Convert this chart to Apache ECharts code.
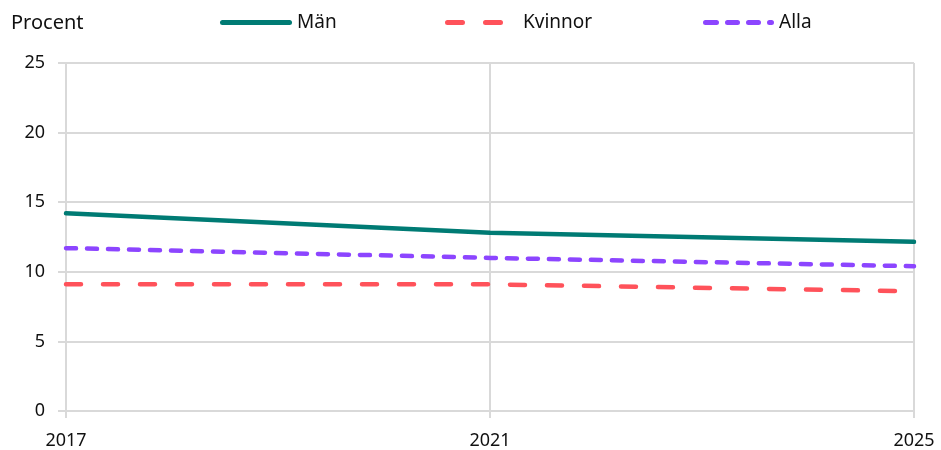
<!DOCTYPE html>
<html>
<head>
<meta charset="utf-8">
<script src="https://cdn.jsdelivr.net/npm/echarts@6/dist/echarts.min.js"></script>
<style>
  html, body { margin: 0; padding: 0; background: #fff; }
  #chart { width: 941px; height: 450px; }
</style>
</head>
<body>
<div id="chart"></div>
<script>
// Andel i procent, 2017–2025
const years = [2017, 2021, 2025];
const man = [14.2, 12.8, 12.15];
const kvinnor = [9.1, 9.1, 8.6];
const alla = [11.7, 11.0, 10.4];
const yTicks = [0, 5, 10, 15, 20, 25];

const FONT = '"Noto Sans", "Open Sans", sans-serif';
const COLORS = { man: '#007B74', kvinnor: '#FF525A', alla: '#8C45FF' };

const pairs = (vals) => years.map((y, i) => [y, vals[i]]);

// Legend keys drawn as short dash patterns
const ICON_SOLID = 'path://M2.5,0 h67 a2.5,2.5 0 0 1 0,5 h-67 a2.5,2.5 0 0 1 0,-5 z';
const ICON_DASH = 'path://M2.5,0 h15 a2.5,2.5 0 0 1 0,5 h-15 a2.5,2.5 0 0 1 0,-5 z M40.5,0 h15 a2.5,2.5 0 0 1 0,5 h-15 a2.5,2.5 0 0 1 0,-5 z';
const ICON_DOT = 'path://M2.5,0 h11 a2.5,2.5 0 0 1 0,5 h-11 a2.5,2.5 0 0 1 0,-5 z M24.5,0 h10 a2.5,2.5 0 0 1 0,5 h-10 a2.5,2.5 0 0 1 0,-5 z M45.5,0 h10 a2.5,2.5 0 0 1 0,5 h-10 a2.5,2.5 0 0 1 0,-5 z M66.5,0 h2 a2.5,2.5 0 0 1 0,5 h-2 a2.5,2.5 0 0 1 0,-5 z';

const legendBase = (name, left, icon, width, padLeft) => ({
  data: [{ name: name, icon: icon }],
  top: 8,
  left: left,
  itemWidth: width,
  itemHeight: 5,
  itemGap: 0,
  textStyle: { fontFamily: FONT, fontSize: 19, color: '#111', padding: [0, 0, 0, padLeft] },
  selectedMode: false
});

const chart = echarts.init(document.getElementById('chart'), null, { renderer: 'canvas' });
chart.setOption({
  animation: false,
  backgroundColor: '#fff',
  title: {
    text: 'Procent',
    left: 6,
    top: 8,
    textStyle: { fontFamily: FONT, fontSize: 20, fontWeight: 'normal', color: '#111' }
  },
  legend: [
    legendBase('Män', 215, ICON_SOLID, 72, 0),
    legendBase('Kvinnor', 440, ICON_DASH, 58, 15),
    legendBase('Alla', 698, ICON_DOT, 71, 0)
  ],
  grid: { left: 66, right: 27, top: 63, bottom: 39 },
  xAxis: {
    type: 'value',
    min: 2017,
    max: 2025,
    interval: 4,
    axisLine: { show: true, lineStyle: { color: '#d9d9d9', width: 2 } },
    axisTick: { show: true, length: 7, lineStyle: { color: '#d9d9d9', width: 2 } },
    splitLine: { show: true, lineStyle: { color: '#d9d9d9', width: 2 } },
    axisLabel: {
      fontFamily: FONT, fontSize: 18, color: '#111', margin: 21,
      formatter: (v) => String(v)
    }
  },
  yAxis: {
    type: 'value',
    min: yTicks[0],
    max: yTicks[yTicks.length - 1],
    interval: 5,
    axisLine: { show: true, lineStyle: { color: '#d9d9d9', width: 2 } },
    axisTick: { show: true, length: 8, lineStyle: { color: '#d9d9d9', width: 2 } },
    splitLine: { show: true, lineStyle: { color: '#d9d9d9', width: 2 } },
    axisLabel: { fontFamily: FONT, fontSize: 18, color: '#111', margin: 21 }
  },
  series: [
    {
      name: 'Män',
      type: 'line',
      data: pairs(man),
      showSymbol: false,
      symbol: 'none',
      color: COLORS.man,
      lineStyle: { color: COLORS.man, width: 4.5, cap: 'round' }
    },
    {
      name: 'Kvinnor',
      type: 'line',
      data: pairs(kvinnor),
      showSymbol: false,
      symbol: 'none',
      color: COLORS.kvinnor,
      lineStyle: { color: COLORS.kvinnor, width: 4.5, type: [15, 22], cap: 'round' }
    },
    {
      name: 'Alla',
      type: 'line',
      data: pairs(alla),
      showSymbol: false,
      symbol: 'none',
      color: COLORS.alla,
      lineStyle: { color: COLORS.alla, width: 4.5, type: [10, 11], cap: 'round' }
    }
  ]
});
</script>
</body>
</html>
